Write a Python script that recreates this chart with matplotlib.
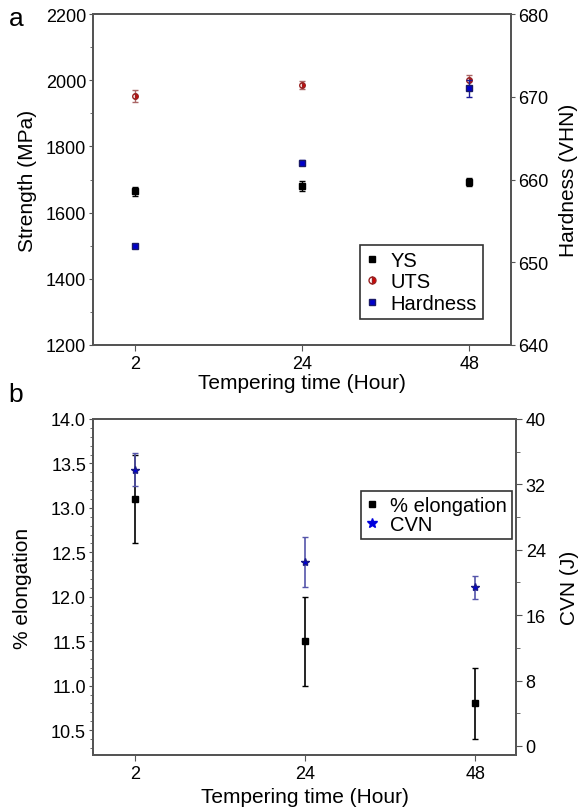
import matplotlib
matplotlib.use("Agg")
import matplotlib.pyplot as plt
from matplotlib.ticker import MultipleLocator, FixedLocator
from matplotlib.lines import Line2D

plt.rcParams['font.family'] = ['Liberation Sans', 'DejaVu Sans']

# ---- data ----
times = ["2", "24", "48"]
ys = [1664, 1680, 1692]
ys_err = [14, 14, 12]
uts = [1951, 1985, 2000]
uts_err = [18, 12, 16]
hardness = [652, 662, 671]
hardness_err = [0.2, 0.3, 1.0]

elong = [13.1, 11.5, 10.8]
elong_err = [0.5, 0.5, 0.4]
cvn = [33.8, 22.5, 19.4]
cvn_err = [2.0, 3.1, 1.4]

xpos = list(range(len(times)))
spine_c = "#555555"
TICK_FS = 13
LAB_FS = 15
LEG_FS = 14.5

fig = plt.figure(figsize=(5.79, 8.12), dpi=100)

def style(ax):
    for s in ax.spines.values():
        s.set_color(spine_c)
        s.set_linewidth(1.4)

# ---------- panel a ----------
ax1 = fig.add_axes([0.1606, 0.5739, 0.7220, 0.4076])
ax1b = ax1.twinx()
ax1.set_xlim(-0.25, 2.25)
ax1.set_ylim(1200, 2200)
ax1b.set_ylim(640, 680)
ax1.set_xticks(xpos)
ax1.set_xticklabels(times)
ax1.yaxis.set_major_locator(MultipleLocator(200))
ax1.yaxis.set_minor_locator(MultipleLocator(100))
ax1b.yaxis.set_major_locator(MultipleLocator(10))

ax1.errorbar(xpos, ys, yerr=ys_err, fmt='s', color='black', ms=4,
             elinewidth=1, capsize=2)
ax1.errorbar(xpos, uts, yerr=uts_err, fmt='o', color='#cc0000',
             mfc='#dd0000', mec='#992222', fillstyle='right',
             markerfacecoloralt='white', ms=4, ecolor='#aa6666',
             elinewidth=1, capsize=2)
ax1b.errorbar(xpos, hardness, yerr=hardness_err, fmt='s', color='#1a1a99',
              mfc='#0000cc', mec='#1a1a66', ms=4, elinewidth=1, capsize=2)

p_ys = Line2D([], [], ls='none', marker='s', color='black', ms=4)
p_uts = Line2D([], [], ls='none', marker='o', mfc='#dd0000', mec='#992222',
               fillstyle='right', markerfacecoloralt='white', ms=5)
p_h = Line2D([], [], ls='none', marker='s', mfc='#0000cc', mec='#1a1a66', ms=5)

ax1.set_xlabel("Tempering time (Hour)", fontsize=LAB_FS, labelpad=1)
ax1.set_ylabel("Strength (MPa)", fontsize=LAB_FS, labelpad=6)
ax1b.set_ylabel("Hardness (VHN)", fontsize=LAB_FS, labelpad=8)
for a in (ax1, ax1b):
    a.tick_params(labelsize=TICK_FS)
ax1.tick_params(axis='y', which='both', direction='out', length=3, color=spine_c, pad=2)
ax1.tick_params(axis='y', which='minor', length=2)
ax1.tick_params(axis='x', direction='out', length=4, color=spine_c, pad=3)
ax1b.tick_params(axis='y', which='both', direction='out', length=3, color=spine_c, pad=2)
style(ax1); style(ax1b)

leg1 = ax1.legend([p_ys, p_uts, p_h], ['YS', 'UTS', 'Hardness'],
                  loc='upper left', bbox_to_anchor=(0.639, 0.302), borderaxespad=0,
                  fontsize=LEG_FS, frameon=True, fancybox=False, handlelength=0.6,
                  handletextpad=0.6, borderpad=0.3, labelspacing=0.12)
leg1.get_frame().set_edgecolor('black')
leg1.get_frame().set_linewidth(1.2)
fig.text(0.015, 0.968, "a", fontsize=19)

# ---------- panel b ----------
ax2 = fig.add_axes([0.1606, 0.0690, 0.7306, 0.4138])
ax2b = ax2.twinx()
ax2.set_xlim(-0.247, 2.24)
ax2.set_ylim(10.22, 14.0)
ax2b.set_ylim(-1.1, 40)
ax2.set_xticks(xpos)
ax2.set_xticklabels(times)
ax2.yaxis.set_major_locator(MultipleLocator(0.5))
ax2.yaxis.set_minor_locator(MultipleLocator(0.1))
ax2b.yaxis.set_major_locator(FixedLocator([0, 8, 16, 24, 32, 40]))
ax2b.yaxis.set_minor_locator(FixedLocator([4, 12, 20, 28, 36]))

ax2.errorbar(xpos, elong, yerr=elong_err, fmt='s', color='black', ms=4,
             elinewidth=1.2, capsize=2.5)
ax2b.errorbar(xpos, cvn, yerr=cvn_err, fmt='*', color='#5555aa',
              mfc='#0000dd', mec='#1a1a88', ms=6, elinewidth=1.2, capsize=2.5)

p_e = Line2D([], [], ls='none', marker='s', color='black', ms=4)
p_c = Line2D([], [], ls='none', marker='*', mfc='#0000dd', mec='#0000dd', ms=7)

ax2.set_xlabel("Tempering time (Hour)", fontsize=LAB_FS, labelpad=4)
ax2.set_ylabel("% elongation", fontsize=LAB_FS, labelpad=14)
ax2b.set_ylabel("CVN (J)", fontsize=LAB_FS, labelpad=10)
for a in (ax2, ax2b):
    a.tick_params(labelsize=TICK_FS)
ax2.tick_params(axis='y', which='both', direction='out', length=3, color=spine_c, pad=2)
ax2.tick_params(axis='y', which='minor', length=2)
ax2.tick_params(axis='x', direction='out', length=4, color=spine_c, pad=3)
ax2b.tick_params(axis='y', which='both', direction='out', length=4, color=spine_c, pad=3)
ax2b.tick_params(axis='y', which='minor', length=3)
style(ax2); style(ax2b)

leg2 = ax2.legend([p_e, p_c], ['% elongation', 'CVN'],
                  loc='upper left', bbox_to_anchor=(0.634, 0.786), borderaxespad=0,
                  fontsize=LEG_FS, frameon=True, fancybox=False, handlelength=0.6,
                  handletextpad=0.6, borderpad=0.25, labelspacing=0.0)
leg2.get_frame().set_edgecolor('black')
leg2.get_frame().set_linewidth(1.2)
fig.text(0.015, 0.505, "b", fontsize=19)

fig.savefig("out.png", dpi=100)
